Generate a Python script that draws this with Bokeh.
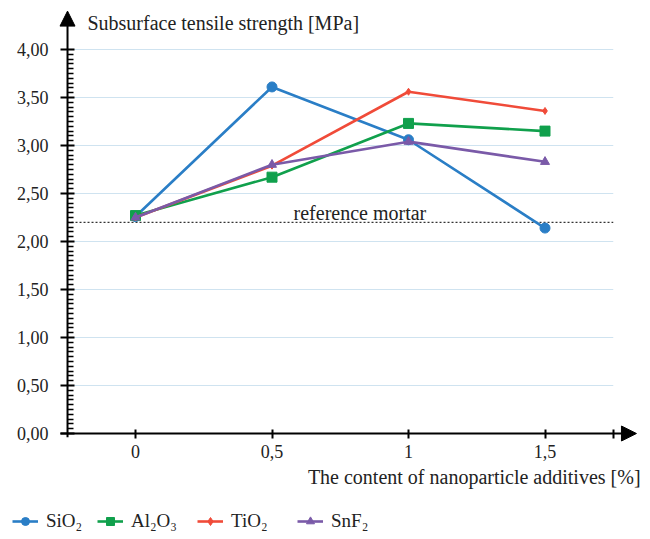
from bokeh.plotting import figure
from bokeh.models import (Range1d, FixedTicker, CustomJSTickFormatter, Label, Arrow,
                          NormalHead, Legend, LegendItem)
from bokeh.embed import file_html
from bokeh.resources import INLINE

# ---- data ----
content = [0, 0.5, 1, 1.5]
sio2 = [2.26, 3.61, 3.06, 2.14]
al2o3 = [2.27, 2.67, 3.23, 3.15]
tio2 = [2.25, 2.79, 3.56, 3.36]
snf2 = [2.25, 2.80, 3.04, 2.83]
reference_mortar = 2.20

series_names = ["SiO\u2082", "Al\u2082O\u2083", "TiO\u2082", "SnF\u2082"]
series_values = [sio2, al2o3, tio2, snf2]
series_colors = ["#2a7ec6", "#10a04c", "#f04b39", "#7a5aa8"]
series_markers = ["circle", "square", "diamond", "triangle"]
series_sizes = [10, 10, 7, 9]

y_ticks = [0.0, 0.5, 1.0, 1.5, 2.0, 2.5, 3.0, 3.5, 4.0]
x_ticks = [0, 0.5, 1, 1.5, 1.75]
x_axis_pos = -0.249
grid_end = 1.75

W, H = 650, 539
X0_PX, XS = 135.0, 273.0   # pixel of x=0, pixels per unit
Y0_PX, YS = 433.0, 96.0    # pixel of y=0, pixels per unit
legend_x_px = [12, 97, 197, 297]

FONT = "Liberation Serif"

p = figure(width=W, height=H, output_backend="svg", toolbar_location=None,
           x_range=Range1d(-X0_PX / XS, (W - X0_PX) / XS),
           y_range=Range1d(-(H - Y0_PX) / YS, Y0_PX / YS),
           min_border=0)
p.outline_line_color = None
p.xgrid.visible = False
p.ygrid.visible = False

# axes drawn inside the frame at fixed locations
minor = [round(i * 0.05, 2) for i in range(0, 81) if i % 10 != 0]
p.yaxis.fixed_location = x_axis_pos
p.yaxis.ticker = FixedTicker(ticks=y_ticks, minor_ticks=minor)
p.yaxis.formatter = CustomJSTickFormatter(code="return tick.toFixed(2).replace('.', ',');")
p.yaxis.axis_line_color = None
p.yaxis.major_tick_in = 7
p.yaxis.major_tick_out = 7
p.yaxis.major_tick_line_width = 2
p.yaxis.major_tick_line_color = "black"
p.yaxis.minor_tick_in = 6
p.yaxis.minor_tick_out = 0
p.yaxis.minor_tick_line_width = 1.5
p.yaxis.minor_tick_line_color = "black"
p.yaxis.major_label_standoff = 12
p.yaxis.major_label_text_font = FONT
p.yaxis.major_label_text_font_size = "18px"
p.yaxis.major_label_text_color = "#222222"

p.xaxis.fixed_location = 0
p.xaxis.ticker = FixedTicker(ticks=x_ticks)
p.xaxis.formatter = CustomJSTickFormatter(
    code="if (tick > 1.6) return ''; return String(tick).replace('.', ',');")
p.xaxis.axis_line_color = None
p.xaxis.major_tick_in = 4
p.xaxis.major_tick_out = 5
p.xaxis.major_tick_line_width = 2
p.xaxis.major_tick_line_color = "black"
p.xaxis.minor_tick_line_color = None
p.xaxis.major_label_standoff = 6
p.xaxis.major_label_text_font = FONT
p.xaxis.major_label_text_font_size = "18px"
p.xaxis.major_label_text_color = "#222222"

# gridlines
grid_y = y_ticks[1:]
p.segment(x0=[x_axis_pos] * len(grid_y), y0=grid_y, x1=[grid_end] * len(grid_y), y1=grid_y,
          line_color="#cfe3f0", line_width=1.2)

# reference mortar
p.segment(x0=[x_axis_pos], y0=[reference_mortar], x1=[grid_end], y1=[reference_mortar],
          line_color="black", line_width=1, line_dash="2 2")
p.add_layout(Label(x=0.579, y=2.295, text="reference mortar", text_font=FONT,
                   text_font_size="20px", text_color="#222222", text_baseline="alphabetic"))

# axis lines with arrows
head = dict(size=15, fill_color="black", line_color="black")
p.add_layout(Arrow(x_start=x_axis_pos, y_start=-0.04, x_end=x_axis_pos, y_end=4.40,
                   line_width=2, line_color="black", end=NormalHead(**head)))
p.add_layout(Arrow(x_start=-0.275, y_start=0, x_end=1.835, y_end=0,
                   line_width=2, line_color="black", end=NormalHead(**head)))

# series + one legend entry per series at the reference's positions
for name, vals, col, mk, sz, lx in zip(series_names, series_values, series_colors,
                                       series_markers, series_sizes, legend_x_px):
    lr = p.line(content, vals, line_color=col, line_width=2.6)
    sr = p.scatter(content, vals, marker=mk, size=sz, fill_color=col, line_color=col)
    leg = Legend(items=[LegendItem(label=name, renderers=[lr, sr])],
                 location=(lx, 7), padding=0, margin=0, glyph_width=26,
                 label_standoff=8, label_text_font=FONT, label_text_font_size="19px",
                 label_text_color="#222222", border_line_color=None,
                 background_fill_alpha=0)
    p.add_layout(leg, "center")

# titles
p.add_layout(Label(x=-0.176, y=4.281, text="Subsurface tensile strength [MPa]",
                   text_font=FONT, text_font_size="20px", text_color="#222222",
                   text_baseline="alphabetic"))
p.add_layout(Label(x=1.85, y=-0.458, text="The content of nanoparticle additives [%]",
                   text_font=FONT, text_font_size="20px", text_color="#222222",
                   text_baseline="alphabetic", text_align="right"))

open("out.html", "w").write(file_html(p, INLINE))
